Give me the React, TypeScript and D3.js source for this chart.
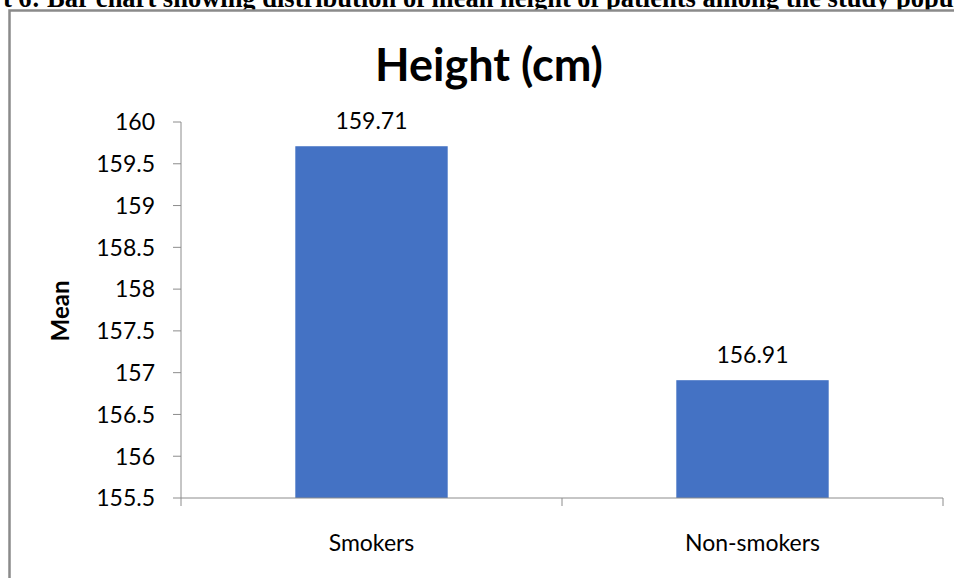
import React from "react";
import * as d3 from "d3";

// Mean height by smoking status
const categories: string[] = ["Smokers", "Non-smokers"];
const meanHeights: number[] = [159.71, 156.91];
const yTicks: number[] = [155.5, 156, 156.5, 157, 157.5, 158, 158.5, 159, 159.5, 160];

const chartTitle = "Height (cm)";
const yAxisTitle = "Mean";
const caption =
  "Chart 6: Bar chart showing distribution of mean height of patients among the study population";

const W = 954;
const H = 578;
const plot = { left: 181, right: 943, top: 122, bottom: 498 };
const FONT = "Lato, 'Open Sans', sans-serif";
const AXIS_GRAY = "#8c8c8c";

export default function App() {
  const x = d3
    .scaleBand<string>()
    .domain(categories)
    .range([plot.left, plot.right])
    .paddingInner(0.6)
    .paddingOuter(0.3);

  const y = d3.scaleLinear().domain([155.5, 160]).range([plot.bottom, plot.top]);

  const step = x.step();
  const boundaries = [0, 1, 2].map((i) => plot.left + i * step);

  return (
    <svg
      width={W}
      height={H}
      viewBox={`0 0 ${W} ${H}`}
      style={{ position: "absolute", left: 0, top: 0, display: "block", background: "#fff" }}
    >
      {/* caption above the chart frame */}
      <text
        x={-56}
        y={6.5}
        fontFamily="'Liberation Serif', 'Times New Roman', serif"
        fontWeight="bold"
        fontSize={26.5}
        fill="#000"
      >
        {caption}
      </text>

      {/* chart frame */}
      <rect
        x={9.5}
        y={10.5}
        width={1000}
        height={700}
        fill="#fff"
        stroke="#8a8a8a"
        strokeWidth={2.5}
      />

      {/* title */}
      <text
        x={489}
        y={81}
        textAnchor="middle"
        fontFamily={FONT}
        fontWeight="bold"
        fontSize={45}
        fill="#000"
      >
        {chartTitle}
      </text>

      {/* y-axis title */}
      <text
        transform={`translate(69,311) rotate(-90)`}
        textAnchor="middle"
        fontFamily={FONT}
        fontWeight="bold"
        fontSize={24}
        fill="#000"
      >
        {yAxisTitle}
      </text>

      {/* bars */}
      {categories.map((c, i) => (
        <rect
          key={c}
          x={x(c)}
          y={y(meanHeights[i])}
          width={x.bandwidth()}
          height={plot.bottom - y(meanHeights[i])}
          fill="#4472C4"
        />
      ))}

      {/* value labels */}
      {categories.map((c, i) => (
        <text
          key={c}
          x={(x(c) as number) + x.bandwidth() / 2}
          y={y(meanHeights[i]) - 17}
          textAnchor="middle"
          fontFamily={FONT}
          fontSize={23}
          fill="#000"
        >
          {meanHeights[i].toFixed(2)}
        </text>
      ))}

      {/* y axis */}
      <line x1={plot.left} x2={plot.left} y1={plot.top} y2={plot.bottom} stroke={AXIS_GRAY} strokeWidth={1} />
      {yTicks.map((t) => (
        <g key={t}>
          <line x1={plot.left - 8} x2={plot.left} y1={y(t)} y2={y(t)} stroke={AXIS_GRAY} strokeWidth={1} />
          <text
            x={155}
            y={y(t)}
            dy="0.36em"
            textAnchor="end"
            fontFamily={FONT}
            fontSize={23}
            fill="#000"
          >
            {t}
          </text>
        </g>
      ))}

      {/* x axis */}
      <line x1={plot.left} x2={plot.right} y1={plot.bottom} y2={plot.bottom} stroke={AXIS_GRAY} strokeWidth={1} />
      {boundaries.map((bx, i) => (
        <line key={i} x1={bx} x2={bx} y1={plot.bottom} y2={plot.bottom + 8} stroke={AXIS_GRAY} strokeWidth={1} />
      ))}
      {categories.map((c) => (
        <text
          key={c}
          x={(x(c) as number) + x.bandwidth() / 2}
          y={551}
          textAnchor="middle"
          fontFamily={FONT}
          fontSize={23}
          fill="#000"
        >
          {c}
        </text>
      ))}
    </svg>
  );
}
